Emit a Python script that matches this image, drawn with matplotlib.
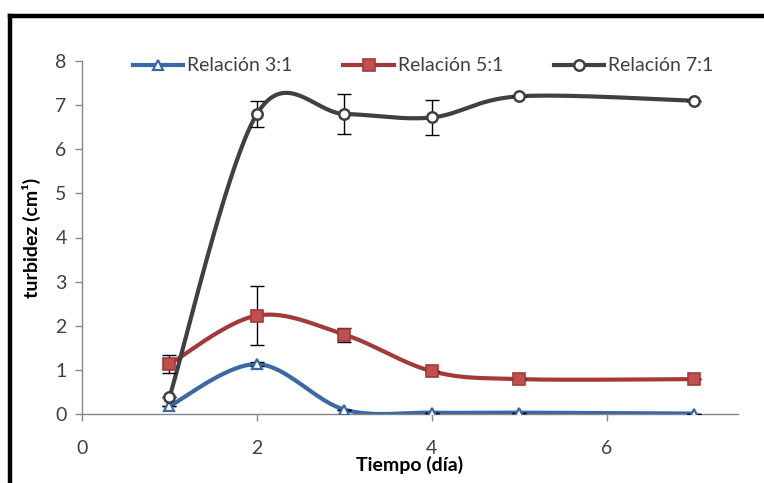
import numpy as np
import matplotlib
matplotlib.use("Agg")
import matplotlib.pyplot as plt
from matplotlib.lines import Line2D

# ---- data ----
dias = [1, 2, 3, 4, 5, 7]
rel_3_1 = [0.18, 1.13, 0.10, 0.03, 0.03, 0.01]
rel_5_1 = [1.13, 2.23, 1.80, 0.97, 0.79, 0.79]
rel_7_1 = [0.38, 6.80, 6.80, 6.72, 7.20, 7.10]
err_3_1 = [0.0, 0.05, 0.0, 0.0, 0.0, 0.0]
err_5_1 = [0.20, 0.66, 0.16, 0.0, 0.0, 0.0]
err_7_1 = [0.0, 0.30, 0.46, 0.39, 0.0, 0.0]
labels = ["Relación 3:1", "Relación 5:1", "Relación 7:1"]
x_ticks = [0, 2, 4, 6]
y_ticks = [0, 1, 2, 3, 4, 5, 6, 7, 8]

FONT = ["Lato", "DejaVu Sans"]
plt.rcParams['font.family'] = FONT


def smooth(xs, ys, n=40):
    """Excel-like smoothed line (Catmull-Rom Bezier)."""
    P = np.column_stack([xs, ys]).astype(float)
    out = []
    for i in range(len(P) - 1):
        p0 = P[i - 1] if i > 0 else P[i]
        p1 = P[i]
        p2 = P[i + 1]
        p3 = P[i + 2] if i + 2 < len(P) else P[i + 1]
        c1 = p1 + (p2 - p0) / 6.0
        c2 = p2 - (p3 - p1) / 6.0
        t = np.linspace(0, 1, n)[:, None]
        seg = ((1 - t) ** 3) * p1 + 3 * ((1 - t) ** 2) * t * c1 + 3 * (1 - t) * t ** 2 * c2 + t ** 3 * p2
        out.append(seg if i == 0 else seg[1:])
    s = np.vstack(out)
    return s[:, 0], s[:, 1]


fig = plt.figure(figsize=(7.64, 4.83), dpi=100)
ax = fig.add_axes([82 / 764, 1 - 414 / 483, (738 - 82) / 764, (414 - 61) / 483])

# outer black frame (left and top)
fig.add_artist(Line2D([9.5 / 764, 9.5 / 764], [-0.05, 1 - 16 / 483], transform=fig.transFigure,
                      color="black", lw=3.2, solid_capstyle="projecting"))
fig.add_artist(Line2D([9.5 / 764, 1.05], [1 - 16 / 483, 1 - 16 / 483], transform=fig.transFigure,
                      color="black", lw=3.2, solid_capstyle="projecting"))

series = [
    (rel_3_1, err_3_1, "#3A69A6", dict(marker="^", mfc="white", mec="#3A69A6", ms=7, mew=1.6)),
    (rel_5_1, err_5_1, "#A33A39", dict(marker="s", mfc="#C0504D", mec="#A33A39", ms=8, mew=1.2)),
    (rel_7_1, err_7_1, "#404040", dict(marker="o", mfc="white", mec="#404040", ms=7.5, mew=1.8)),
]

handles = []
for (ys, es, col, mk), lab in zip(series, labels):
    sx, sy = smooth(dias, ys)
    ax.plot(sx, sy, color=col, lw=3.0, solid_capstyle="round", zorder=3)
    ax.errorbar(dias, ys, yerr=es, fmt="none", ecolor="black", elinewidth=1.0, capsize=5,
                capthick=1.0, zorder=4)
    ax.plot(dias, ys, linestyle="none", zorder=5, **mk)
    handles.append(Line2D([], [], color=col, lw=3.0, **mk))

ax.set_xlim(0, 7.5)
ax.set_ylim(0, 8)
ax.set_xticks(x_ticks)
ax.set_yticks(y_ticks)
for s in ["top", "right"]:
    ax.spines[s].set_visible(False)
for s in ["left", "bottom"]:
    ax.spines[s].set_color("#868686")
    ax.spines[s].set_linewidth(1.0)
ax.tick_params(axis="both", colors="#868686", length=5, width=1.0, labelsize=14,
               labelcolor="#404040", direction="out")
ax.tick_params(axis="x", pad=14)
ax.tick_params(axis="y", pad=6)

ax.set_xlabel("Tiempo (día)", fontsize=14, fontweight="bold", color="black", labelpad=-1)
ax.set_ylabel("turbidez (cm¹)", fontsize=14, fontweight="bold", color="black", labelpad=10)

leg = ax.legend(handles, labels, loc="upper center", bbox_to_anchor=(0.52, 1.06), ncol=3,
                frameon=False, fontsize=14, handlelength=2.6, columnspacing=2.6,
                handletextpad=0.2)
for t in leg.get_texts():
    t.set_color("#404040")

fig.savefig("out.png", dpi=100)
